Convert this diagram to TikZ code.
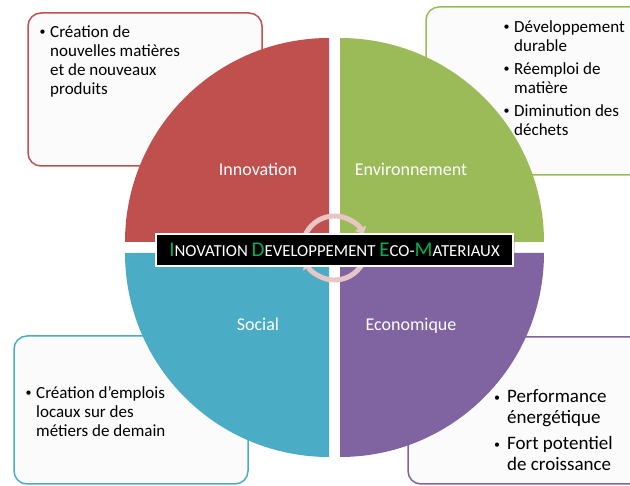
\documentclass[tikz,border=0pt]{standalone}
\usepackage{fontspec}
\setmainfont{Carlito}
\usepackage{tikz}
\usetikzlibrary{positioning}
\usetikzlibrary{shadows}
\usetikzlibrary{arrows.meta}
\usepackage{xcolor}
\definecolor{rouge}{HTML}{C0504D}
\definecolor{vert}{HTML}{9BBB59}
\definecolor{bleu}{HTML}{4BACC6}
\definecolor{violet}{HTML}{8064A2}
\definecolor{vertvif}{HTML}{00B050}
\definecolor{rose}{HTML}{E8C6C5}
\definecolor{fond}{HTML}{FBFBFB}
\newcommand\quartier[4]{
  \fill[#4] (#1,#2) -- ++(#3:204) arc[start angle=#3, delta angle=90, radius=204] -- cycle;
}
\newcommand\puce[1][10.5pt]{\llap{\makebox[#1][l]{\raisebox{1.6pt}{\fontsize{12}{12}\selectfont\textbullet}}}}
\newcommand\liste[1]{\begin{tabular}[t]{@{}l@{}}#1\end{tabular}}
\newcommand\ini[1]{{\color{vertvif}\fontsize{21}{21}\selectfont #1}}

\begin{document}
\begin{tikzpicture}[x=1pt, y=-1pt,
    boite/.style={rounded corners=13pt, line width=1.5pt, fill=fond},
    puces/.style={anchor=base west, inner sep=0pt, text=black},
    titre/.style={anchor=base, text=white, font=\fontsize{18}{18}\selectfont},
    fleche/.style={draw=rose, line width=5pt, -{Triangle[width=12pt,length=7pt]}}]
    \useasboundingbox (0,0) rectangle (630,486);

    \draw[boite, draw=rouge] (28,13) rectangle (262,166);
    \draw[boite, draw=vert] (426,7) rectangle (650,175);
    \draw[boite, draw=bleu] (14,336) rectangle (248,484);
    \draw[boite, draw=violet] (408,337) rectangle (650,484);

    \node[puces, font=\fontsize{17}{19}\selectfont] (txtinno) at (50,37.5)
      {\liste{\puce Création de\\nouvelles matières\\et de nouveaux\\produits}};
    \node[puces, font=\fontsize{17}{19}\selectfont] (txtenv) at (514,32.5)
      {\liste{\puce Développement\\durable\\[4pt]\puce Réemploi de\\matière\\[4pt]\puce Diminution des\\déchets}};
    \node[puces, font=\fontsize{17}{19}\selectfont] (txtsoc) at (36,398.5)
      {\liste{\puce Création d’emplois\\locaux sur des\\métiers de demain}};
    \node[puces, font=\fontsize{19}{20.5}\selectfont] (txteco) at (507,403)
      {\liste{\puce[13pt]Performance\\énergétique\\[6pt]\puce[13pt]Fort potentiel\\de croissance}};

    \quartier{329}{242}{180}{rouge}
    \quartier{340}{242}{270}{vert}
    \quartier{329}{253}{90}{bleu}
    \quartier{340}{253}{0}{violet}

    \node[titre] (innovation) at (258,176) {Innovation};
    \node[titre] (environnement) at (411,176) {Environnement};
    \node[titre] (social) at (258,331) {Social};
    \node[titre] (economique) at (411,331) {Economique};

    \coordinate (centre) at (334.5,248);
    \draw[fleche] ([shift={(195:32)}]centre) arc[start angle=195, end angle=335, radius=32];
    \draw[fleche] ([shift={(15:32)}]centre) arc[start angle=15, end angle=155, radius=32];

    \node[fill=black, draw=white, line width=2pt, minimum width=357pt, minimum height=32pt, inner sep=0pt,
      drop shadow={opacity=0.35, shadow xshift=1.5pt, shadow yshift=-1.5pt},
      text=white, font=\fontsize{16.8}{16.8}\selectfont] (ideco) at (334.5,250)
      {\ini{I}NOVATION \ini{D}EVELOPPEMENT \ini{E}CO-\ini{M}ATERIAUX};
\end{tikzpicture}
\end{document}
